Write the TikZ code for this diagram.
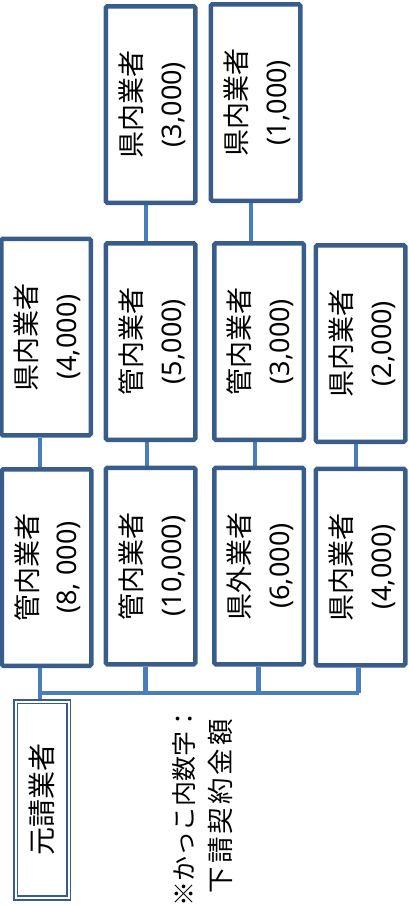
\documentclass[tikz,border=0pt]{standalone}
\usepackage{fontspec}
\setmainfont{Noto Sans}
\newfontfamily\jp{Noto Sans CJK JP}
\definecolor{boxc}{HTML}{385D8A}
\definecolor{linec}{HTML}{4A7EBB}
\pgfdeclarelayer{background}
\pgfsetlayers{background,main}
\tikzset{
  firm/.style={draw=boxc, line width=4.5pt, fill=white, rounded corners=1.5pt,
    minimum width=89.5pt, minimum height=196.5pt, inner sep=0pt},
  prime/.style={draw=boxc, double=white, double distance=2pt, line width=1.6pt,
    minimum width=52.7pt, minimum height=196.5pt, inner sep=0pt},
  conn/.style={draw=linec, line width=4.3pt},
  notestyle/.style={inner sep=0pt},
}
\newcommand{\firmtext}[2]{\fontsize{27}{40}\selectfont\kern5pt\rotatebox{90}{\begin{tabular}{@{}c@{}}{\jp #1}\\#2\end{tabular}}}
\begin{document}
\begin{tikzpicture}[x=1pt,y=-1pt]
\useasboundingbox (0,0) rectangle (408,906);
% level 3
\node[firm] (c2c) at (150.5,104.5) {\firmtext{県内業者}{(3,000)}};
\node[firm] (c3c) at (255.5,102.5) {\firmtext{県内業者}{(1,000)}};
% level 2
\node[firm] (c1b) at (46,337) {\firmtext{県内業者}{(4,000)}};
\node[firm] (c2b) at (150.5,341.5) {\firmtext{管内業者}{(5,000)}};
\node[firm] (c3b) at (259,341.5) {\firmtext{管内業者}{(3,000)}};
\node[firm] (c4b) at (360.5,343.5) {\firmtext{県内業者}{(2,000)}};
% level 1
\node[firm] (c1a) at (46.5,567.5) {\firmtext{管内業者}{(8, 000)}};
\node[firm] (c2a) at (150.5,566) {\firmtext{管内業者}{(10,000)}};
\node[firm] (c3a) at (259,566) {\firmtext{県外業者}{(6,000)}};
\node[firm] (c4a) at (360.5,567) {\firmtext{県内業者}{(4,000)}};
% prime contractor
\node[prime] (prime) at (42.2,799.8) {\fontsize{28}{40}\selectfont\rotatebox{90}{\jp 元請業者}};
% note
\node[notestyle] (note) at (204.6,806) {\fontsize{25}{37}\selectfont\rotatebox{90}{\begin{tabular}{@{}c@{}}{\jp ※かっこ内数字：}\\{\fontsize{26.5}{37}\selectfont\jp 下\kern3pt 請\kern3pt 契\kern3pt 約\kern3pt 金\kern3pt 額}\end{tabular}}};
% bus junctions
\coordinate (j1) at (40,693);
\coordinate (j2) at (145.5,693);
\coordinate (j3) at (258.5,693);
\coordinate (j4) at (358.5,693);
\begin{pgfonlayer}{background}
\draw[conn] ([xshift=-6pt]c1b.south) -- ([xshift=-6.5pt]c1a.north);
\draw[conn] ([xshift=-6.5pt]c1a.south) -- (j1) -- ([xshift=-2.2pt]prime.north);
\draw[conn] (j1) -- (j4);
\draw[conn] ([xshift=-4.5pt]c2c.south) -- ([xshift=-4.5pt]c2b.north);
\draw[conn] ([xshift=-3.5pt]c2b.south) -- ([xshift=-3.5pt]c2a.north);
\draw[conn] ([xshift=-5pt]c2a.south) -- (j2);
\draw[conn] ([xshift=-4.5pt]c3c.south) -- ([xshift=-8pt]c3b.north);
\draw[conn] ([xshift=-4pt]c3b.south) -- ([xshift=-4pt]c3a.north);
\draw[conn] ([xshift=-0.5pt]c3a.south) -- (j3);
\draw[conn] ([xshift=-4.5pt]c4b.south) -- ([xshift=-4.5pt]c4a.north);
\draw[conn] ([xshift=-2pt]c4a.south) -- (j4);
\end{pgfonlayer}
\end{tikzpicture}
\end{document}
